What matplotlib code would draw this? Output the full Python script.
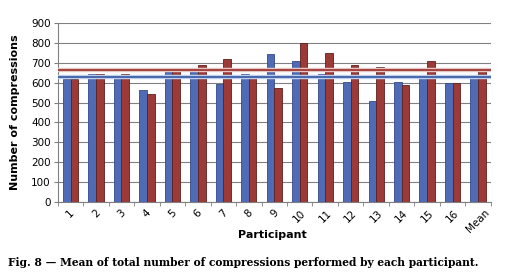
import matplotlib.pyplot as plt
import numpy as np

# data
participants = ['1', '2', '3', '4', '5', '6', '7', '8', '9', '10', '11', '12',
                '13', '14', '15', '16', 'Mean']
blue_vals = [620, 645, 635, 565, 660, 660, 595, 645, 745, 710, 645, 605,
             510, 605, 625, 600, 630]
red_vals = [620, 645, 645, 545, 660, 690, 720, 625, 575, 800, 750, 690,
            680, 590, 710, 600, 665]
blue_mean = 630
red_mean = 665

BLUE = '#4F6BB5'
RED = '#9B3A37'

fig = plt.figure(figsize=(5.07, 2.73), dpi=100)
ax = fig.add_axes([0.114, 0.26, 0.854, 0.656])

x = np.arange(len(participants))
w = 0.3
ax.bar(x - w / 2, blue_vals, width=w, color=BLUE, edgecolor='#34498A', linewidth=0.6, zorder=3)
ax.bar(x + w / 2, red_vals, width=w, color=RED, edgecolor='#5E201E', linewidth=0.6, zorder=3)

ax.axhline(blue_mean, color='#C4D2EC', lw=3.2, zorder=4)
ax.axhline(blue_mean, color='#4A6AAE', lw=1.5, zorder=4)
ax.axhline(red_mean, color='#E6CCCA', lw=3.2, zorder=4)
ax.axhline(red_mean, color='#A8443F', lw=1.5, zorder=4)

ax.set_xlim(-0.5, len(participants) - 0.5)
ax.set_ylim(0, 900)
ax.set_yticks(range(0, 901, 100))
ax.yaxis.grid(True, color='#808080', lw=0.8, zorder=0)
ax.set_xticks(x)
ax.set_xticklabels(participants, rotation=45, ha='center', fontsize=7.5)
ax.set_xticks(np.arange(-0.5, len(participants), 1), minor=True)
ax.tick_params(axis='x', which='major', length=0, pad=4)
ax.tick_params(axis='x', which='minor', length=3, color='#808080')
ax.tick_params(axis='y', labelsize=7.5, length=3, color='#808080', pad=2)
for s in ['top', 'right']:
    ax.spines[s].set_visible(False)
ax.spines['left'].set_color('#808080')
ax.spines['bottom'].set_color('#808080')

ax.set_ylabel('Number of compressions', fontsize=8, fontweight='bold', labelpad=8)
fig.text(0.537, 0.139, 'Participant', fontsize=8, fontweight='bold', ha='center', va='center')
fig.text(0.016, 0.04, 'Fig. 8 \u2014 Mean of total number of compressions performed by each participant.',
         fontsize=7.7, fontweight='bold', family='DejaVu Serif', ha='left', va='center')

plt.savefig('out.png', dpi=100)
